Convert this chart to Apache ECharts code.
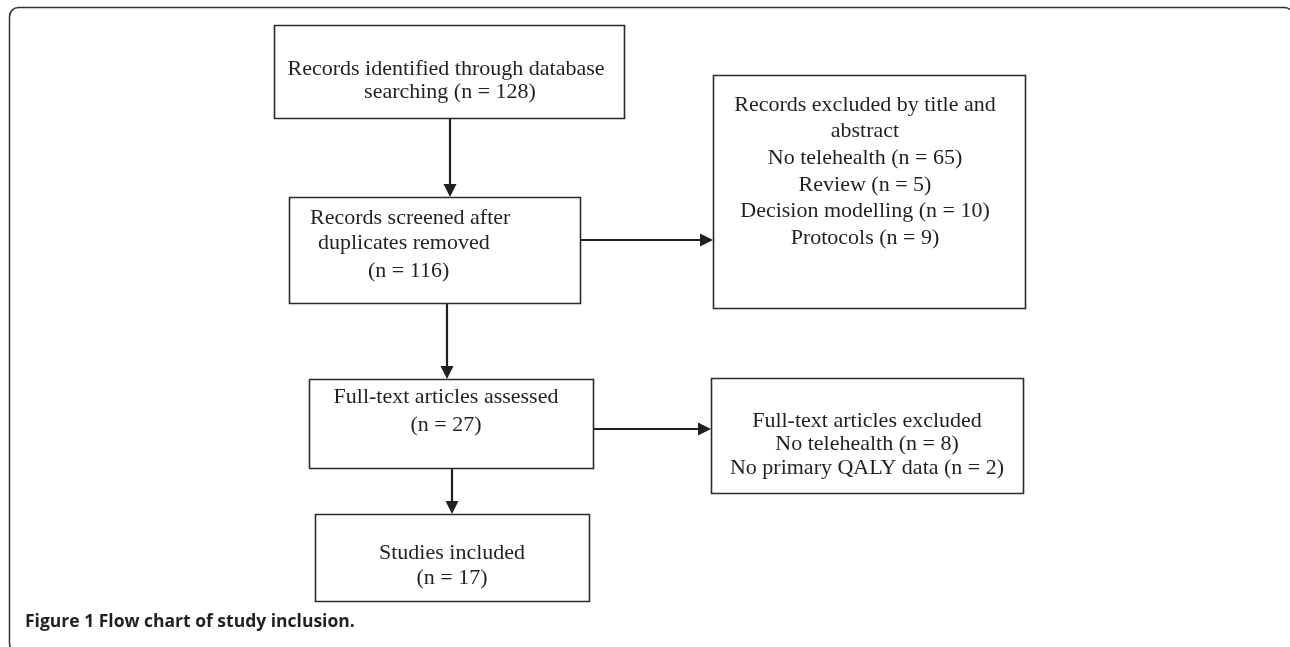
<!DOCTYPE html>
<html>
<head>
<meta charset="utf-8">
<style>
html,body{margin:0;padding:0;background:#ffffff;}
#chart{width:1290px;height:647px;}
</style>
<script src="https://cdn.jsdelivr.net/npm/echarts@6.0.0/dist/echarts.min.js"></script>
</head>
<body>
<div id="chart"></div>
<script>
// ---------------- data ----------------
const stageNames = [
  'Records identified through database\nsearching',
  'Records screened after\nduplicates removed',
  'Full-text articles assessed',
  'Studies included'
];
const stageCounts = [128, 116, 27, 17];

const titleAbstractHeading = 'Records excluded by title and\nabstract';
const titleAbstractReasons = ['No telehealth', 'Review', 'Decision modelling', 'Protocols'];
const titleAbstractCounts = [65, 5, 10, 9];

const fullTextHeading = 'Full-text articles excluded';
const fullTextReasons = ['No telehealth', 'No primary QALY data'];
const fullTextCounts = [8, 2];

const captionLabel = 'Figure 1';
const captionText = 'Flow chart of study inclusion.';

// flow links: [from box, to box, direction]
const flowLinks = [[0, 1, 'down'], [1, 4, 'right'], [1, 2, 'down'], [2, 5, 'right'], [2, 3, 'down']];

// ---------------- layout (chart coordinate space) ----------------
const boxLayout = [
  { rect: [274, 25, 624, 118], cxs: [446, 450], y0: 69, lh: 23, sep: ' ' },
  { rect: [289, 197, 580, 303], xs: [310, 318, 368], ys: [218, 243, 271], sep: '\n' },
  { rect: [309, 379, 593, 468], cx: 446, y0: 397, lh: 28, sep: '\n' },
  { rect: [315, 514, 589, 601], cx: 452, y0: 553, lh: 25, sep: '\n' },
  { rect: [713, 75, 1025, 308], cx: 865, y0: 105, lh: 26.6 },
  { rect: [711, 378, 1023, 493], cx: 867, y0: 421, lh: 23.5 }
];
const linkAnchor = [450, 240, 447, 429, 452]; // x for vertical links, y for horizontal

const fmt = (name, n, sep) => name + sep + '(n = ' + n + ')';
const boxLines = [
  fmt(stageNames[0], stageCounts[0], boxLayout[0].sep).split('\n'),
  fmt(stageNames[1], stageCounts[1], boxLayout[1].sep).split('\n'),
  fmt(stageNames[2], stageCounts[2], boxLayout[2].sep).split('\n'),
  fmt(stageNames[3], stageCounts[3], boxLayout[3].sep).split('\n'),
  titleAbstractHeading.split('\n').concat(titleAbstractReasons.map((r, i) => fmt(r, titleAbstractCounts[i], ' '))),
  fullTextHeading.split('\n').concat(fullTextReasons.map((r, i) => fmt(r, fullTextCounts[i], ' ')))
];

const INK = '#231f20';
const SERIF = '22px "Liberation Serif", "Times New Roman", serif';

function renderBox(params, api) {
  const i = api.value(0);
  const L = boxLayout[i];
  const p0 = api.coord([L.rect[0], L.rect[1]]);
  const p1 = api.coord([L.rect[2], L.rect[3]]);
  const children = [{
    type: 'rect',
    shape: { x: Math.round(p0[0]) + 0.5, y: Math.round(p0[1]) + 0.5, width: Math.round(p1[0] - p0[0]), height: Math.round(p1[1] - p0[1]) },
    style: { fill: '#ffffff', stroke: '#2b2b2b', lineWidth: 1.6 }
  }];
  boxLines[i].forEach((t, k) => {
    let pos, align;
    if (L.xs) { pos = api.coord([L.xs[k], L.ys[k]]); align = 'left'; }
    else { pos = api.coord([L.cxs ? L.cxs[k] : L.cx, L.y0 + k * L.lh]); align = 'center'; }
    children.push({
      type: 'text', x: pos[0], y: pos[1],
      style: { text: t, font: SERIF, fill: INK, align: align, verticalAlign: 'middle' }
    });
  });
  return { type: 'group', children: children };
}

function renderLink(params, api) {
  const link = flowLinks[api.value(0)];
  const a = boxLayout[link[0]].rect, b = boxLayout[link[1]].rect;
  const anchor = linkAnchor[api.value(0)];
  let s, e;
  if (link[2] === 'down') { s = api.coord([anchor, a[3]]); e = api.coord([anchor, b[1]]); }
  else { s = api.coord([a[2], anchor]); e = api.coord([b[0], anchor]); }
  const len = 13, hw = 6.5;
  let pts, lineEnd;
  if (link[2] === 'down') {
    lineEnd = [e[0], e[1] - len + 1];
    pts = [[e[0], e[1]], [e[0] - hw, e[1] - len], [e[0] + hw, e[1] - len]];
  } else {
    lineEnd = [e[0] - len + 1, e[1]];
    pts = [[e[0], e[1]], [e[0] - len, e[1] - hw], [e[0] - len, e[1] + hw]];
  }
  return {
    type: 'group',
    children: [
      { type: 'line', shape: { x1: s[0], y1: s[1], x2: lineEnd[0], y2: lineEnd[1] }, style: { stroke: INK, lineWidth: 2.2 } },
      { type: 'polygon', shape: { points: pts }, style: { fill: INK } }
    ]
  };
}

const chart = echarts.init(document.getElementById('chart'), null, { renderer: 'canvas' });
chart.setOption({
  animation: false,
  backgroundColor: '#ffffff',
  grid: { left: 0, right: 0, top: 0, bottom: 0 },
  xAxis: { type: 'value', min: 0, max: 1290, show: false },
  yAxis: { type: 'value', min: 0, max: 647, inverse: true, show: false },
  graphic: [
    {
      type: 'rect', silent: true,
      shape: { x: 9.5, y: 7.5, width: 1284, height: 645, r: 9 },
      style: { fill: 'none', stroke: '#333333', lineWidth: 1.5 }
    },
    {
      type: 'text', x: 25, y: 622,
      style: { text: captionLabel + ' ' + captionText, font: 'bold 17.5px "Open Sans", "Noto Sans", sans-serif', fill: '#231f20', verticalAlign: 'middle' }
    }
  ],
  series: [
    { type: 'custom', coordinateSystem: 'cartesian2d', renderItem: renderLink, data: flowLinks.map((l, i) => [i]), z: 1 },
    { type: 'custom', coordinateSystem: 'cartesian2d', renderItem: renderBox, data: boxLayout.map((b, i) => [i]), z: 2 }
  ]
});
</script>
</body>
</html>
